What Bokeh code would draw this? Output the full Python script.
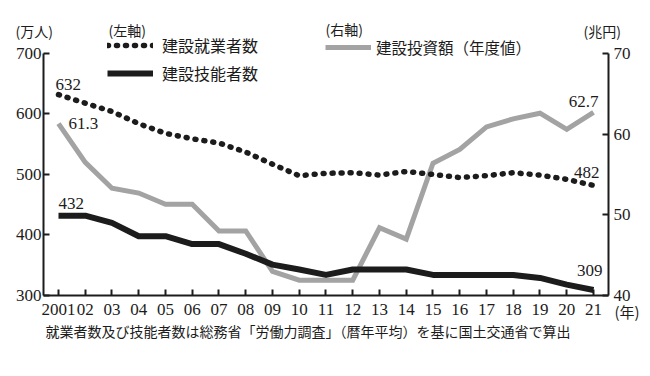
from bokeh.plotting import figure
from bokeh.models import (ColumnDataSource, Range1d, LinearAxis, FixedTicker,
                          Legend, LegendItem, Label)
from bokeh.core.properties import value
from bokeh.embed import file_html
from bokeh.resources import INLINE

# ---------------- data ----------------
years = [2001, 2002, 2003, 2004, 2005, 2006, 2007, 2008, 2009, 2010, 2011,
         2012, 2013, 2014, 2015, 2016, 2017, 2018, 2019, 2020, 2021]
year_labels = ["2001", "02", "03", "04", "05", "06", "07", "08", "09", "10", "11",
               "12", "13", "14", "15", "16", "17", "18", "19", "20", "21"]
employed = [632, 618, 604, 584, 568, 559, 552, 537, 517, 498, 502,
            503, 499, 505, 500, 495, 498, 503, 499, 492, 482]          # 建設就業者数 (万人)
skilled = [432, 432, 420, 398, 398, 385, 385, 369, 351, 343, 334,
           343, 343, 343, 334, 334, 334, 334, 329, 318, 309]           # 建設技能者数 (万人)
investment = [61.3, 56.5, 53.3, 52.7, 51.3, 51.3, 48.0, 48.0, 43.0, 41.9, 41.9,
              41.9, 48.4, 47.0, 56.4, 58.1, 60.9, 61.9, 62.6, 60.6, 62.7]  # 建設投資額 (兆円)
left_ticks = [300, 400, 500, 600, 700]
right_ticks = [40, 50, 60, 70]

NUM_FONT = "Liberation Serif"
CJK_FONT = "Noto Sans CJK JP"
INK = "#1c1c1c"
GRAY = "#a3a3a3"

W, H = 650, 376
# frame covers the whole canvas; axes are pinned at fixed locations
X_LEFT, X_RIGHT = 2000.44, 2021.56
p = figure(width=W, height=H, output_backend="svg", toolbar_location=None,
           x_range=Range1d(1998.832, 2023.131), y_range=Range1d(166.1, 787.6),
           min_border=0)
p.extra_y_ranges = {"right": Range1d(29.96, 76.57)}
p.outline_line_color = None
p.xgrid.visible = False
p.ygrid.visible = False
p.background_fill_color = "white"
p.border_fill_color = "white"


def style_axis(ax, standoff):
    ax.major_tick_in = 6
    ax.major_tick_out = 0
    ax.minor_tick_line_color = None
    ax.axis_line_width = 2
    ax.axis_line_color = INK
    ax.major_tick_line_color = INK
    ax.major_tick_line_width = 2
    ax.major_label_text_font = NUM_FONT
    ax.major_label_text_font_size = "17px"
    ax.major_label_text_color = INK
    ax.major_label_standoff = standoff


# x axis
xa = p.xaxis[0]
xa.ticker = FixedTicker(ticks=years)
xa.major_label_overrides = {y: l for y, l in zip(years, year_labels)}
xa.fixed_location = left_ticks[0]
xa.bounds = (X_LEFT, X_RIGHT)
style_axis(xa, 9)

# left axis
ya = p.yaxis[0]
ya.ticker = FixedTicker(ticks=left_ticks)
ya.fixed_location = X_LEFT
ya.bounds = (left_ticks[0], left_ticks[-1])
style_axis(ya, 2)

# right axis
ra = LinearAxis(y_range_name="right", ticker=FixedTicker(ticks=right_ticks))
ra.fixed_location = X_RIGHT
ra.bounds = (right_ticks[0], right_ticks[-1])
style_axis(ra, 5)
p.add_layout(ra, "right")

src = ColumnDataSource(dict(year=years, employed=employed, skilled=skilled, investment=investment))

r_inv = p.line("year", "investment", source=src, y_range_name="right",
               line_color=GRAY, line_width=5, line_join="miter")
r_emp = p.line("year", "employed", source=src, line_color=INK, line_width=5.5,
               line_dash="1 8", line_cap="round", line_join="round")
r_sk = p.line("year", "skilled", source=src, line_color=INK, line_width=6, line_join="round")

# value labels
lab_left = ColumnDataSource(dict(
    x=[years[0], years[0], years[-1], years[-1]],
    y=[employed[0], skilled[0], employed[-1], skilled[-1]],
    t=[str(employed[0]), str(skilled[0]), str(employed[-1]), str(skilled[-1])],
    xo=[-3, 0, 6, 9], yo=[-10, -12, -13, -20],
    al=["left", "left", "right", "right"]))
p.text("x", "y", text="t", source=lab_left, x_offset="xo", y_offset="yo",
       text_align="al", text_baseline="middle", text_font=value(NUM_FONT),
       text_font_size="17px", text_color=INK)
lab_right = ColumnDataSource(dict(
    x=[years[0], years[-1]], y=[investment[0], investment[-1]],
    t=[f"{investment[0]:.1f}", f"{investment[-1]:.1f}"],
    xo=[10, 5], yo=[0, -11], al=["left", "right"]))
p.text("x", "y", text="t", source=lab_right, y_range_name="right", x_offset="xo", y_offset="yo",
       text_align="al", text_baseline="middle", text_font=value(NUM_FONT),
       text_font_size="17px", text_color=INK)

# legends (location = bottom-left corner, px from canvas bottom-left)
leg1 = Legend(items=[LegendItem(label="建設就業者数", renderers=[r_emp]),
                     LegendItem(label="建設技能者数", renderers=[r_sk])],
              location=(107, 291), orientation="vertical")
leg2 = Legend(items=[LegendItem(label="建設投資額（年度値）", renderers=[r_inv])],
              location=(325, 317), orientation="vertical")
for lg, fs, st in ((leg1, "16px", 9), (leg2, "15.5px", 5)):
    lg.padding = 0
    lg.margin = 0
    lg.spacing = 4
    lg.glyph_width = 46
    lg.glyph_height = 24
    lg.label_height = 24
    lg.label_standoff = st
    lg.border_line_color = None
    lg.background_fill_alpha = 0
    lg.label_text_font = CJK_FONT
    lg.label_text_font_size = fs
    lg.label_text_color = INK
    p.add_layout(lg)


# annotation texts (screen px, from canvas bottom-left)
def note(x, y_top, text, size="14px"):
    p.add_layout(Label(x=x, y=H - y_top, x_units="screen", y_units="screen", text=text,
                       text_font=CJK_FONT, text_font_size=size, text_color=INK,
                       text_baseline="middle", text_align="left"))


note(15, 30, "(万人)")
note(108, 29, "(左軸)")
note(325, 28, "(右軸)")
note(583, 30, "(兆円)")
note(614, 311, "(年)", "15px")
note(45, 330, "就業者数及び技能者数は総務省「労働力調査」（暦年平均）を基に国土交通省で算出")

open("out.html", "w").write(file_html(p, INLINE))
